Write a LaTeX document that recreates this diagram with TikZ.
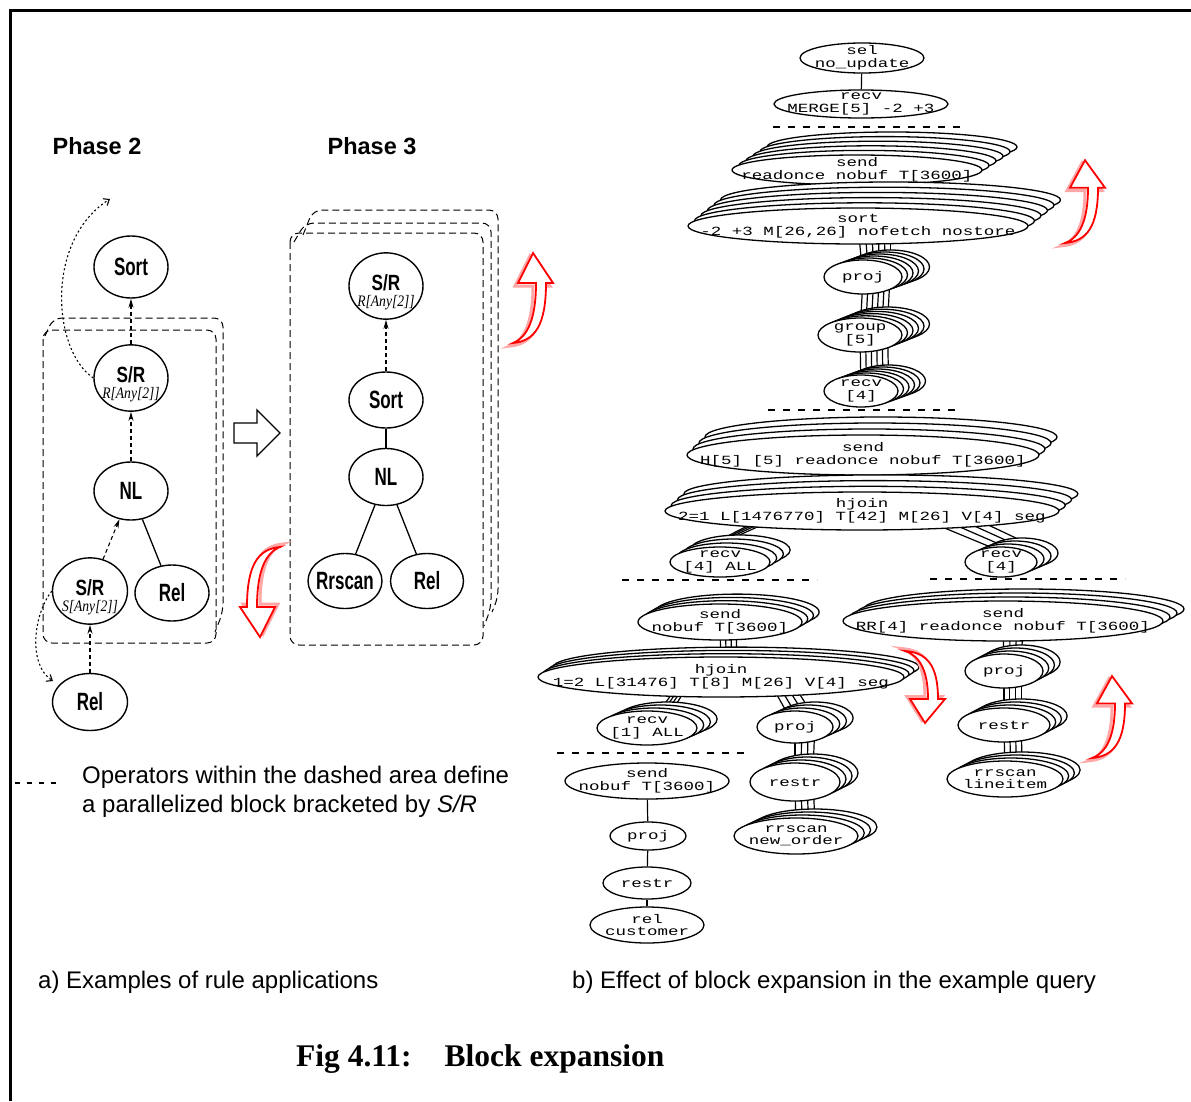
\documentclass[tikz,border=0pt]{standalone}
\usepackage{fontspec}
\setmainfont{Liberation Sans}
\newfontfamily\narrowsans{Liberation Sans}[FakeStretch=0.68]
\newfontfamily\srsans{Liberation Sans}[FakeStretch=0.78]
\newfontfamily\subserif{Liberation Serif}[FakeStretch=0.85]
\newfontfamily\pixmono{Liberation Mono}[FakeStretch=1.4]
\newfontfamily\capserif{Liberation Serif}
\usetikzlibrary{shapes.geometric,arrows.meta,calc}
\pgfdeclarelayer{links}
\pgfsetlayers{links,main}

% two-line label of a send/receive operator
\newcommand\srlabel[1]{\vbox{\baselineskip=15.5pt\lineskiplimit=-20pt\lineskip=0pt\kern12pt
  \hbox to 0pt{\hss\srsans\bfseries\fontsize{22}{22}\selectfont S/R\hss}
  \hbox to 0pt{\hss\subserif\mdseries\itshape\fontsize{16}{16}\selectfont #1[Any[2]]\hss}}}

% stacked operator: name, x, y, rx, ry, copies behind, dx, dy, text
\newcommand\qstack[9]{%
  \foreach \k in {#6,...,1}{%
    \node[qop, minimum width={2*#4}, minimum height={2*#5}] (#1-\k) at ({#2+\k*#7},{#3+\k*#8}) {};
  }
  \node[qop, minimum width={2*#4}, minimum height={2*#5}] (#1-0) at (#2,#3) {};
  \node[qtext] (#1-t) at (#1-0.center) {#9};
}
% single operator: name, x, y, rx, ry, text
\newcommand\qsingle[6]{%
  \node[qop, minimum width={2*#4}, minimum height={2*#5}] (#1-0) at (#2,#3) {};
  \node[qtext] (#1-t) at (#1-0.center) {#6};
}
% links between corresponding copies of two stacks
\newcommand\qchain[3]{\foreach \k in {0,...,#3}{\draw[qedge] (#1-\k.center) -- (#2-\k.center);}}

\tikzset{
  opnode/.style={ellipse, draw, line width=1.4pt, fill=white, inner sep=0pt,
    font=\narrowsans\bfseries\fontsize{25}{25}\selectfont},
  dedge/.style={dash pattern=on 4pt off 3pt, line width=1.1pt, -{Stealth[length=9pt,width=5pt]}},
  sedge/.style={line width=1.3pt},
  dotarc/.style={dash pattern=on 2pt off 2.5pt, line width=1.1pt, -{Straight Barb[length=5pt,width=8pt]}},
  blockdash/.style={dash pattern=on 7pt off 4pt, line width=1pt, rounded corners=9pt},
  qop/.style={ellipse, draw, line width=1.3pt, fill=white, inner sep=0pt},
  qtext/.style={align=center, inner sep=0pt, font=\pixmono\fontsize{12.5}{12.5}\selectfont},
  qedge/.style={line width=1.2pt},
  sepline/.style={line width=2.5pt, dash pattern=on 7pt off 8pt},
  bendarrow/.pic={
    \begin{scope}[shift={(-3,3)}]
      \draw[red!35, line width=3pt] (0,0) .. controls (22,-2) and (33,-18) .. (33,-60)
        -- (40,-60) -- (20,-90) -- (5,-60) -- (23,-60) .. controls (23,-25) and (15,-6) .. (0,0) -- cycle;
    \end{scope}
    \draw[red, line width=1.8pt, fill=white] (0,0) .. controls (22,-2) and (33,-18) .. (33,-60)
      -- (40,-60) -- (20,-90) -- (5,-60) -- (23,-60) .. controls (23,-25) and (15,-6) .. (0,0) -- cycle;
  }
}

\begin{document}
\begin{tikzpicture}[x=1pt,y=-1pt]
\useasboundingbox (0,0) rectangle (1191,1101);
\draw[line width=3pt] (10.5,1101) -- (10.5,10.5) -- (1191,10.5);

% ---------- a) rule applications ----------
\node[font=\bfseries\fontsize{23.5}{28}\selectfont] (ph2) at (97,146) {Phase 2};
\node[font=\bfseries\fontsize{23.5}{28}\selectfont] (ph3) at (372,146) {Phase 3};

% parallel block of phase 2
\draw[blockdash] (45,336) -- (53,318) -- (223,318) -- (223,612) -- (215,632);
\draw[blockdash] (43,330) rectangle (216,643);

\node[opnode, minimum width=74, minimum height=62] (sort) at (131,267) {Sort};
\node[opnode, minimum width=74, minimum height=64] (srR) at (131,378) {\srlabel{R}};
\node[opnode, minimum width=74, minimum height=58] (nl) at (131,491) {NL};
\node[opnode, minimum width=75, minimum height=66] (srS) at (90,591) {\srlabel{S}};
\node[opnode, minimum width=74, minimum height=56] (rel) at (172,593) {Rel};
\node[opnode, minimum width=75, minimum height=57] (relB) at (90,702) {Rel};

\draw[dedge] (srR) -- (sort);
\draw[dedge] (nl) -- (srR);
\draw[dedge] (srS) -- (nl);
\draw[dedge] (relB) -- (srS);
\draw[sedge] (rel) -- (nl);

\coordinate (arcA) at (110,199);
\coordinate (arcB) at (53,681);
\draw[dotarc] (srR.west) .. controls (52,350) and (45,240) .. (arcA);
\draw[dotarc] (srS.west) .. controls (33,615) and (28,665) .. (arcB);

% transformation arrow
\draw[line width=1.3pt, fill=white] (234,423) -- (257,423) -- (257,410) -- (280,433)
  -- (257,456) -- (257,443) -- (234,443) -- cycle;

% parallel block of phase 3
\draw[blockdash] (303,235) -- (313,210) -- (498,210) -- (498,598) -- (492,612);
\draw[blockdash] (294,242) -- (305,223) -- (491,223) -- (491,608) -- (484,626);
\draw[blockdash] (290,233) rectangle (483,645);

\node[opnode, minimum width=74, minimum height=66] (srR3) at (386,286) {\srlabel{R}};
\node[opnode, minimum width=74, minimum height=56] (sort3) at (386,400) {Sort};
\node[opnode, minimum width=74, minimum height=57] (nl3) at (386,477) {NL};
\node[opnode, minimum width=74, minimum height=55] (rrs3) at (345,581) {\makebox[0pt]{Rrscan}};
\node[opnode, minimum width=73, minimum height=55] (rel3) at (427,581) {Rel};

\draw[dedge] (sort3) -- (srR3);
\draw[sedge] (nl3) -- (sort3);
\draw[sedge] (nl3) -- (rrs3);
\draw[sedge] (nl3) -- (rel3);

\pic[rotate=180] at (280,547) {bendarrow};
\pic at (513,343) {bendarrow};

% legend and captions
\draw[dash pattern=on 5pt off 7pt, line width=1.3pt] (15,783) -- (57,783);
\node[anchor=base west, inner sep=0pt, font=\fontsize{24}{29}\selectfont] (leg1) at (82,783) {Operators within the dashed area define};
\node[anchor=base west, inner sep=0pt, font=\fontsize{24}{29}\selectfont] (leg2) at (82,812) {a parallelized block bracketed by \textit{S/R}};
\node[anchor=base west, inner sep=0pt, font=\fontsize{24}{29}\selectfont] (capa) at (38,988) {a) Examples of rule applications};
\node[anchor=base west, inner sep=0pt, font=\fontsize{24}{29}\selectfont] (capb) at (572,988) {b) Effect of block expansion in the example query};
\node[anchor=base west, inner sep=0pt, font=\capserif\bfseries\fontsize{31.5}{36}\selectfont] (fig) at (296,1066) {Fig 4.11:\hspace{33pt}Block expansion};

% ---------- b) expanded query plan ----------
\qsingle{sel}{862}{58}{62}{15}{sel\\no\_update}
\qsingle{mrg}{861}{104}{87}{14}{recv\\MERGE[5] -2 +3}

\qstack{snd1}{857}{170}{125}{15}{5}{7}{-4.6}{send\\readonce nobuf T[3600]}
\qstack{srt}{858}{226}{170}{18}{5}{6.5}{-5.2}{sort\\-2 +3 M[26,26] nofetch nostore}
\qstack{prj1}{863}{277}{39}{17}{5}{5.5}{-2}{proj}
\qstack{grp}{860}{335}{42}{17}{5}{5.5}{-2.2}{group\\{[5]}}
\qstack{rcv1}{861}{391}{37}{16}{5}{5.5}{-2}{recv\\{[4]}}

\qstack{snd2}{863}{455}{176}{20}{3}{6}{-6}{send\\{H[5] [5] readonce nobuf T[3600]}}
\qstack{hj2}{862}{511}{197}{19}{3}{6.3}{-5.7}{hjoin\\2=1 L[1476770] T[42] M[26] V[4] seg}
\qstack{rA}{720}{562}{50}{15}{3}{6.7}{-4}{recv\\{[4] ALL}}
\qstack{rB}{1001}{562}{36}{15}{3}{7}{-3}{recv\\{[4]}}

\qstack{sndL}{720}{622}{82}{18}{3}{5.7}{-3.3}{send\\nobuf T[3600]}
\qstack{hjL}{721}{677}{183}{20}{3}{5}{-3.3}{hjoin\\1=2 L[31476] T[8] M[26] V[4] seg}
\qstack{rC}{647}{728}{50}{17}{3}{6.7}{-3}{recv\\{[1] ALL}}
\qstack{prjL}{795}{727}{38}{16}{3}{6.7}{-3}{proj}
\qstack{rstL}{795}{782}{45}{19}{3}{6}{-3}{restr}
\qstack{rrsL}{796}{836}{62}{18}{3}{6.3}{-3}{rrscan\\new\_order}

\qstack{sndR}{1003}{621}{160}{20}{3}{7}{-4}{send\\RR[4] readonce nobuf T[3600]}
\qstack{prjR}{1004}{671}{39}{17}{3}{5.7}{-3}{proj}
\qstack{rstR}{1004}{725}{46}{17}{3}{5.7}{-3}{restr}
\qstack{rrsR}{1005}{779}{58}{18}{3}{5.7}{-3}{rrscan\\lineitem}

\qsingle{snd4}{647}{781}{82}{18}{send\\nobuf T[3600]}
\qsingle{prj4}{648}{836}{38}{14}{proj}
\qsingle{rst4}{647}{883}{44}{16}{restr}
\qsingle{rel4}{647}{925}{57}{18}{rel\\customer}

\begin{pgfonlayer}{links}
  \draw[qedge] (sel-0) -- (mrg-0);
  \qchain{snd1}{srt}{5}
  \qchain{srt}{prj1}{5}
  \qchain{prj1}{grp}{5}
  \qchain{grp}{rcv1}{5}
  \qchain{snd2}{hj2}{3}
  \foreach \k in {0,...,3}{
    \draw[qedge] ($(hj2-\k.center)!0.35!(hj2-\k.west)$) -- ($(rA-\k.center)!0.8!(rA-\k.west)$);
    \draw[qedge] ($(hj2-\k.center)!0.21!(hj2-\k.east)$) -- ($(rB-\k.center)!0.7!(rB-\k.east)$);
    \draw[qedge] ($(hjL-\k.center)!0.2!(hjL-\k.west)$) -- (rC-\k.center);
    \draw[qedge] ($(hjL-\k.center)!0.25!(hjL-\k.east)$) -- (prjL-\k.center);
  }
  \qchain{sndL}{hjL}{3}
  \qchain{prjL}{rstL}{3}
  \qchain{rstL}{rrsL}{3}
  \qchain{sndR}{prjR}{3}
  \qchain{prjR}{rstR}{3}
  \qchain{rstR}{rrsR}{3}
  \draw[qedge] (snd4-0) -- (prj4-0);
  \draw[qedge] (prj4-0) -- (rst4-0);
  \draw[qedge] (rst4-0) -- (rel4-0);
\end{pgfonlayer}

% block boundaries
\draw[sepline] (773,127) -- (967,127);
\draw[sepline] (768,410) -- (962,410);
\draw[sepline] (622,580) -- (817,580);
\draw[sepline] (930,579) -- (1125,579);
\draw[sepline] (557,753) -- (750,753);

\pic[yscale=0.92] at (1065,243) {bendarrow};
\pic[yscale=-0.8] at (905,651) {bendarrow};
\pic[yscale=0.91] at (1092,758) {bendarrow};
\end{tikzpicture}
\end{document}
